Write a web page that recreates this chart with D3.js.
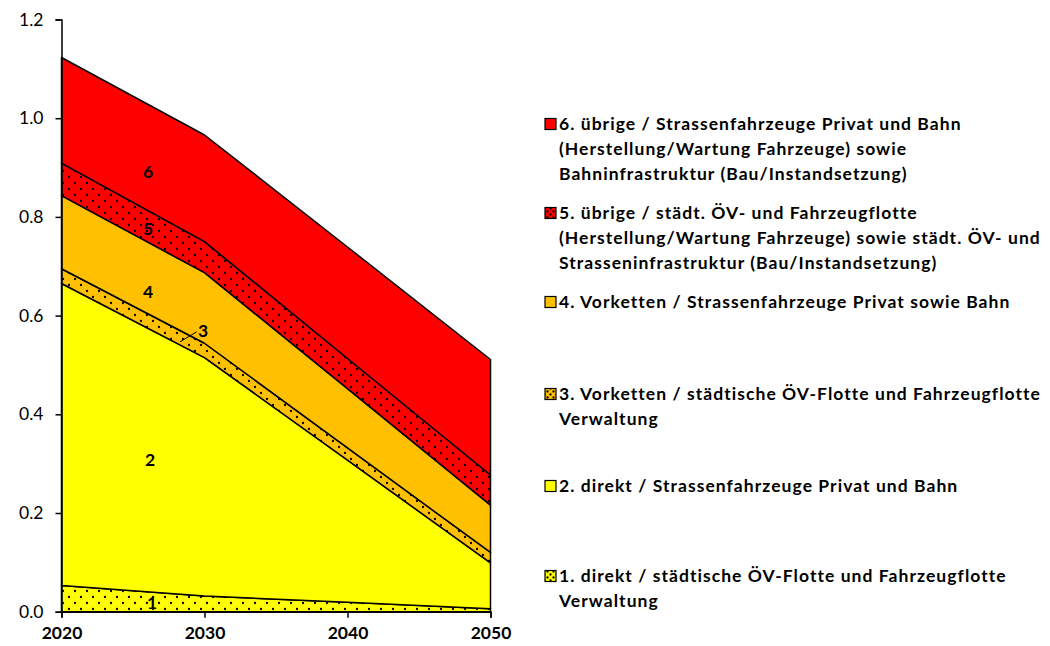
<!DOCTYPE html>
<html lang="de">
<head>
<meta charset="utf-8">
<script src="https://d3js.org/d3.v7.min.js"></script>
<style>
  body { margin: 0; background: #fff; }
  svg text { font-family: Lato, "Open Sans", sans-serif; fill: #000; }
</style>
</head>
<body>
<div id="chart"></div>
<script>
// years and stacked series (bottom to top)
var years = [2020, 2030, 2040, 2050]
var s1 = [0.053, 0.032, 0.019, 0.006]
var s2 = [0.612, 0.483, 0.288, 0.093]
var s3 = [0.030, 0.029, 0.025, 0.021]
var s4 = [0.148, 0.143, 0.120, 0.096]
var s5 = [0.066, 0.063, 0.061, 0.061]
var s6 = [0.214, 0.216, 0.226, 0.234]
var yTicks = [0, 0.2, 0.4, 0.6, 0.8, 1.0, 1.2]
var legendLabels = [
  ["6. übrige / Strassenfahrzeuge Privat und Bahn", "(Herstellung/Wartung Fahrzeuge) sowie", "Bahninfrastruktur (Bau/Instandsetzung)"],
  ["5. übrige / städt. ÖV- und Fahrzeugflotte", "(Herstellung/Wartung Fahrzeuge) sowie städt. ÖV- und", "Strasseninfrastruktur (Bau/Instandsetzung)"],
  ["4. Vorketten / Strassenfahrzeuge Privat sowie Bahn"],
  ["3. Vorketten / städtische ÖV-Flotte und Fahrzeugflotte", "Verwaltung"],
  ["2. direkt / Strassenfahrzeuge Privat und Bahn"],
  ["1. direkt / städtische ÖV-Flotte und Fahrzeugflotte", "Verwaltung"]
]

var width = 1050, height = 646
var keys = ["s1", "s2", "s3", "s4", "s5", "s6"]
var series = {s1: s1, s2: s2, s3: s3, s4: s4, s5: s5, s6: s6}
var rows = years.map(function(y, i) {
  var r = {year: y}
  keys.forEach(function(k) { r[k] = series[k][i] })
  return r
})

var svg = d3.select("#chart").append("svg")
  .attr("width", width).attr("height", height)

// dotted patterns
var defs = svg.append("defs")
function dots(id, bg, size) {
  var p = defs.append("pattern").attr("id", id)
    .attr("patternUnits", "userSpaceOnUse").attr("width", size).attr("height", size)
  p.append("rect").attr("width", size).attr("height", size).attr("fill", bg)
  p.append("circle").attr("cx", size / 4).attr("cy", size / 4).attr("r", 1.15).attr("fill", "#000")
  p.append("circle").attr("cx", size * 3 / 4).attr("cy", size * 3 / 4).attr("r", 1.15).attr("fill", "#000")
}
dots("dotYellow", "#FFFF00", 12)
dots("dotOrange", "#FFC000", 12)
dots("dotRed", "#FF0000", 12)
dots("dotYellowS", "#FFFF00", 6)
dots("dotOrangeS", "#FFC000", 6)
dots("dotRedS", "#FF0000", 6)
var fills = {s1: "url(#dotYellow)", s2: "#FFFF00", s3: "url(#dotOrange)", s4: "#FFC000", s5: "url(#dotRed)", s6: "#FF0000"}
var legFills = {s1: "url(#dotYellowS)", s2: "#FFFF00", s3: "url(#dotOrangeS)", s4: "#FFC000", s5: "url(#dotRedS)", s6: "#FF0000"}

var x = d3.scaleLinear().domain([2020, 2050]).range([61.5, 490.5])
var y = d3.scaleLinear().domain([0, 1.2]).range([611.7, 19.5])

var stacked = d3.stack().keys(keys)(rows)
var area = d3.area()
  .x(function(d) { return x(d.data.year) })
  .y0(function(d) { return y(d[0]) })
  .y1(function(d) { return y(d[1]) })

svg.append("g").selectAll("path").data(stacked).enter().append("path")
  .attr("d", area)
  .attr("fill", function(d) { return fills[d.key] })
  .attr("stroke", "#000").attr("stroke-width", 1.5)
  .attr("stroke-linejoin", "round")

// area labels
var labels = [
  {t: "6", yr: 2026.05, v: 0.891},
  {t: "5", yr: 2026.05, v: 0.776},
  {t: "4", yr: 2026.05, v: 0.648},
  {t: "3", yr: 2029.9, v: 0.569},
  {t: "2", yr: 2026.2, v: 0.309},
  {t: "1", yr: 2026.33, v: 0.018}
]
svg.append("g").selectAll("text").data(labels).enter().append("text")
  .attr("x", function(d) { return x(d.yr) })
  .attr("y", function(d) { return y(d.v) })
  .attr("dy", "0.36em")
  .attr("text-anchor", "middle")
  .style("font-size", "17.5px").style("font-weight", "bold")
  .text(function(d) { return d.t })
svg.append("line")
  .attr("x1", x(2028.29)).attr("y1", y(0.547))
  .attr("x2", x(2029.45)).attr("y2", y(0.567))
  .attr("stroke", "#000").attr("stroke-width", 1)

// axes
var yAxis = svg.append("g").attr("transform", "translate(" + x(2020) + ",0)")
  .call(d3.axisLeft(y).tickValues(yTicks).tickFormat(d3.format(".1f")).tickSizeOuter(0).tickSize(6))
yAxis.selectAll("text").style("font-size", "17.5px").attr("x", -18)
var xAxis = svg.append("g").attr("transform", "translate(0," + y(0) + ")")
  .call(d3.axisBottom(x).tickValues(years).tickFormat(d3.format("d")).tickSizeOuter(0).tickSize(6))
xAxis.selectAll("text").style("font-size", "17.5px").style("font-weight", "bold").attr("y", 15)
svg.selectAll(".domain, .tick line").attr("stroke", "#000").attr("stroke-width", 1.5)

// legend
var legY = [124, 213, 302, 394, 486, 576]
var legKeys = ["s6", "s5", "s4", "s3", "s2", "s1"]
var leg = svg.append("g")
legKeys.forEach(function(k, i) {
  leg.append("rect").attr("x", 545).attr("y", legY[i] - 5.5).attr("width", 11).attr("height", 11)
    .attr("fill", legFills[k]).attr("stroke", "#000").attr("stroke-width", 1.2)
  legendLabels[i].forEach(function(line, j) {
    leg.append("text").attr("x", 559).attr("y", legY[i] + j * 24.6)
      .attr("dy", "0.36em")
      .style("font-size", "17.5px").style("font-weight", "bold")
      .style("letter-spacing", "1.05px")
      .text(line)
  })
})
</script>
</body>
</html>
